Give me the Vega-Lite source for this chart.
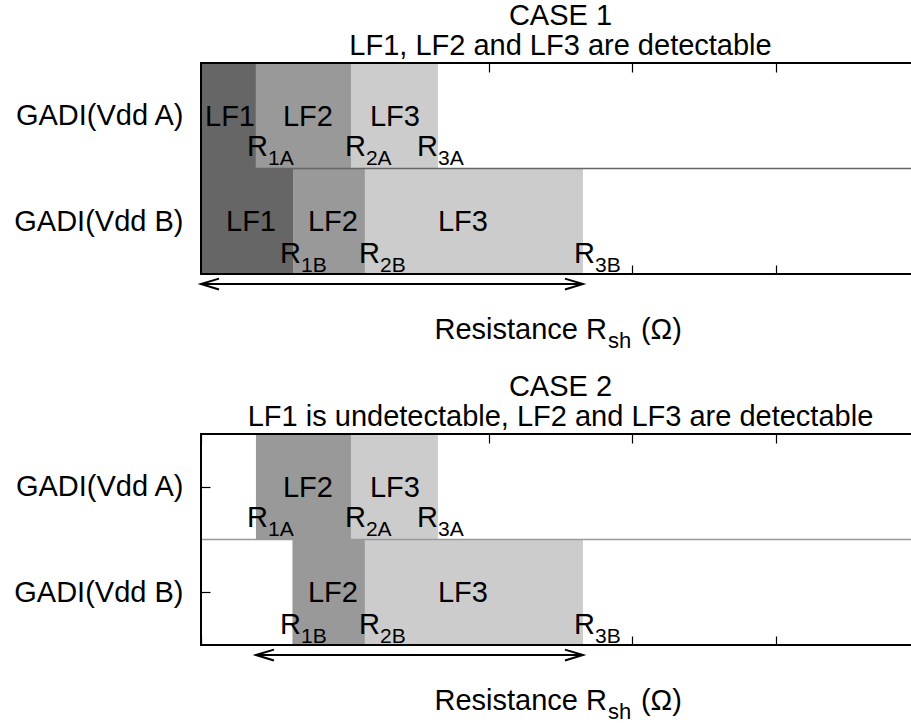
{
  "$schema": "https://vega.github.io/schema/vega-lite/v6.json",
  "padding": {"left": 13, "top": 2, "right": 0, "bottom": 0},
  "bounds": "flush",
  "spacing": 160,
  "config": {
    "view": {"stroke": null},
    "font": "Liberation Sans",
    "text": {"font": "Liberation Sans", "color": "black"},
    "title": {"font": "Liberation Sans", "fontSize": 29, "fontWeight": "normal", "color": "black", "anchor": "middle", "lineHeight": 30, "offset": 1},
    "axis": {"grid": false, "labelFont": "Liberation Sans", "labelColor": "black", "tickColor": "black", "tickWidth": 1.2}
  },
  "datasets": {
    "bars1": [
      {"row": "A", "lf": "LF1", "x0": 0, "x1": 0.382, "y0": 1, "y1": 2},
      {"row": "A", "lf": "LF2", "x0": 0.382, "x1": 1.043, "y0": 1, "y1": 2},
      {"row": "A", "lf": "LF3", "x0": 1.043, "x1": 1.648, "y0": 1, "y1": 2},
      {"row": "B", "lf": "LF1", "x0": 0, "x1": 0.64, "y0": 0, "y1": 1},
      {"row": "B", "lf": "LF2", "x0": 0.64, "x1": 1.14, "y0": 0, "y1": 1},
      {"row": "B", "lf": "LF3", "x0": 1.14, "x1": 2.656, "y0": 0, "y1": 1}
    ],
    "bars2": [
      {"row": "A", "lf": "LF2", "x0": 0.382, "x1": 1.043, "y0": 1, "y1": 2},
      {"row": "A", "lf": "LF3", "x0": 1.043, "x1": 1.648, "y0": 1, "y1": 2},
      {"row": "B", "lf": "LF2", "x0": 0.636, "x1": 1.14, "y0": 0, "y1": 1},
      {"row": "B", "lf": "LF3", "x0": 1.14, "x1": 2.656, "y0": 0, "y1": 1}
    ],
    "lf1": [
      {"text": "LF1", "x": 0.028, "y": 1.403},
      {"text": "LF2", "x": 0.57, "y": 1.403},
      {"text": "LF3", "x": 1.175, "y": 1.403},
      {"text": "LF1", "x": 0.174, "y": 0.408},
      {"text": "LF2", "x": 0.744, "y": 0.408},
      {"text": "LF3", "x": 1.648, "y": 0.408}
    ],
    "lf2": [
      {"text": "LF2", "x": 0.57, "y": 1.403},
      {"text": "LF3", "x": 1.175, "y": 1.403},
      {"text": "LF2", "x": 0.744, "y": 0.408},
      {"text": "LF3", "x": 1.648, "y": 0.408}
    ],
    "rlabels": [
      {"r": "R", "sub": "1A", "x": 0.32, "y": 1.118},
      {"r": "R", "sub": "2A", "x": 1.001, "y": 1.118},
      {"r": "R", "sub": "3A", "x": 1.502, "y": 1.118},
      {"r": "R", "sub": "1B", "x": 0.549, "y": 0.104},
      {"r": "R", "sub": "2B", "x": 1.099, "y": 0.104},
      {"r": "R", "sub": "3B", "x": 2.594, "y": 0.104}
    ],
    "arrow1": [{"xs": 0, "xe": 2.656, "y": -0.095}],
    "arrow2": [{"xs": 0.382, "xe": 2.656, "y": -0.095}],
    "xtitle": [{"main": "Resistance R", "sub": "sh", "end": "(Ω)", "x": 2.823, "y": -0.616}]
  },
  "vconcat": [
    {
      "width": 719,
      "height": 211,
      "title": {"text": ["CASE 1", "LF1, LF2 and LF3 are detectable"]},
      "layer": [
        {
          "data": {"name": "bars1"},
          "mark": {"type": "rect"},
          "encoding": {
            "x": {"field": "x0", "type": "quantitative", "scale": {"domain": [0, 5], "nice": false, "zero": false},
                  "axis": {"orient": "bottom", "values": [0, 1, 2, 3, 4, 5], "tickSize": -9, "labels": false, "domain": false, "title": null}},
            "x2": {"field": "x1"},
            "y": {"field": "y0", "type": "quantitative", "scale": {"domain": [0, 2], "nice": false, "zero": false},
                  "axis": {"orient": "left", "values": [0.5, 1.5], "tickSize": -9, "labelPadding": 27, "labelFontSize": 29, "domain": false, "title": null,
                           "labelExpr": "datum.value > 1 ? 'GADI(Vdd A)' : 'GADI(Vdd B)'"}},
            "y2": {"field": "y1"},
            "color": {"field": "lf", "type": "nominal", "scale": {"domain": ["LF1", "LF2", "LF3"], "range": ["#666666", "#999999", "#cccccc"]}, "legend": null}
          }
        },
        {
          "data": {"values": [{}]},
          "mark": {"type": "rule", "color": "#666666", "strokeWidth": 1.5},
          "encoding": {
            "x": {"datum": 0, "axis": {"orient": "top", "values": [0, 1, 2, 3, 4, 5], "tickSize": -9, "labels": false, "domain": false, "title": null}},
            "x2": {"datum": 5},
            "y": {"datum": 1, "axis": {"orient": "right", "values": [0.5, 1.5], "tickSize": -9, "labels": false, "domain": false, "title": null}}
          }
        },
        {
          "data": {"name": "lf1"},
          "mark": {"type": "text", "fontSize": 29, "align": "left", "baseline": "alphabetic"},
          "encoding": {
            "x": {"field": "x", "type": "quantitative", "axis": null},
            "y": {"field": "y", "type": "quantitative", "axis": null},
            "text": {"field": "text"}
          }
        },
        {
          "data": {"name": "rlabels"},
          "mark": {"type": "text", "fontSize": 29, "align": "left", "baseline": "alphabetic"},
          "encoding": {
            "x": {"field": "x", "type": "quantitative", "axis": null},
            "y": {"field": "y", "type": "quantitative", "axis": null},
            "text": {"field": "r"}
          }
        },
        {
          "data": {"name": "rlabels"},
          "mark": {"type": "text", "fontSize": 21, "align": "left", "baseline": "alphabetic", "dx": 21, "dy": 9},
          "encoding": {
            "x": {"field": "x", "type": "quantitative", "axis": null},
            "y": {"field": "y", "type": "quantitative", "axis": null},
            "text": {"field": "sub"}
          }
        },
        {
          "data": {"name": "arrow1"},
          "mark": {"type": "rule", "color": "black", "strokeWidth": 2},
          "encoding": {
            "x": {"field": "xs", "type": "quantitative", "axis": null},
            "x2": {"field": "xe"},
            "y": {"field": "y", "type": "quantitative", "axis": null}
          }
        },
        {
          "data": {"name": "arrow1"},
          "mark": {"type": "point", "shape": "M1,-0.3L0,0L1,0.3", "size": 1296, "filled": false, "stroke": "black", "strokeWidth": 2, "opacity": 1},
          "encoding": {
            "x": {"field": "xs", "type": "quantitative", "axis": null},
            "y": {"field": "y", "type": "quantitative", "axis": null}
          }
        },
        {
          "data": {"name": "arrow1"},
          "mark": {"type": "point", "shape": "M-1,-0.3L0,0L-1,0.3", "size": 1296, "filled": false, "stroke": "black", "strokeWidth": 2, "opacity": 1},
          "encoding": {
            "x": {"field": "xe", "type": "quantitative", "axis": null},
            "y": {"field": "y", "type": "quantitative", "axis": null}
          }
        },
        {
          "data": {"name": "xtitle"},
          "mark": {"type": "text", "fontSize": 29, "align": "right", "baseline": "alphabetic"},
          "encoding": {
            "x": {"field": "x", "type": "quantitative", "axis": null},
            "y": {"field": "y", "type": "quantitative", "axis": null},
            "text": {"field": "main"}
          }
        },
        {
          "data": {"name": "xtitle"},
          "mark": {"type": "text", "fontSize": 22, "align": "left", "baseline": "alphabetic", "dx": 1, "dy": 9},
          "encoding": {
            "x": {"field": "x", "type": "quantitative", "axis": null},
            "y": {"field": "y", "type": "quantitative", "axis": null},
            "text": {"field": "sub"}
          }
        },
        {
          "data": {"name": "xtitle"},
          "mark": {"type": "text", "fontSize": 29, "align": "left", "baseline": "alphabetic", "dx": 34},
          "encoding": {
            "x": {"field": "x", "type": "quantitative", "axis": null},
            "y": {"field": "y", "type": "quantitative", "axis": null},
            "text": {"field": "end"}
          }
        },
        {
          "data": {"values": [{}]},
          "mark": {"type": "rect", "filled": false, "stroke": "black", "strokeWidth": 2},
          "encoding": {
            "x": {"datum": 0, "axis": null},
            "x2": {"datum": 5},
            "y": {"datum": 0, "axis": null},
            "y2": {"datum": 2}
          }
        }
      ]
    },
    {
      "width": 719,
      "height": 211,
      "title": {"text": ["CASE 2", "LF1 is undetectable, LF2 and LF3 are detectable"]},
      "layer": [
        {
          "data": {"name": "bars2"},
          "mark": {"type": "rect"},
          "encoding": {
            "x": {"field": "x0", "type": "quantitative", "scale": {"domain": [0, 5], "nice": false, "zero": false},
                  "axis": {"orient": "bottom", "values": [0, 1, 2, 3, 4, 5], "tickSize": -9, "labels": false, "domain": false, "title": null}},
            "x2": {"field": "x1"},
            "y": {"field": "y0", "type": "quantitative", "scale": {"domain": [0, 2], "nice": false, "zero": false},
                  "axis": {"orient": "left", "values": [0.5, 1.5], "tickSize": -9, "labelPadding": 27, "labelFontSize": 29, "domain": false, "title": null,
                           "labelExpr": "datum.value > 1 ? 'GADI(Vdd A)' : 'GADI(Vdd B)'"}},
            "y2": {"field": "y1"},
            "color": {"field": "lf", "type": "nominal", "scale": {"domain": ["LF1", "LF2", "LF3"], "range": ["#666666", "#999999", "#cccccc"]}, "legend": null}
          }
        },
        {
          "data": {"values": [{}]},
          "mark": {"type": "rule", "color": "#999999", "strokeWidth": 1.5},
          "encoding": {
            "x": {"datum": 0, "axis": {"orient": "top", "values": [0, 1, 2, 3, 4, 5], "tickSize": -9, "labels": false, "domain": false, "title": null}},
            "x2": {"datum": 5},
            "y": {"datum": 1, "axis": {"orient": "right", "values": [0.5, 1.5], "tickSize": -9, "labels": false, "domain": false, "title": null}}
          }
        },
        {
          "data": {"name": "lf2"},
          "mark": {"type": "text", "fontSize": 29, "align": "left", "baseline": "alphabetic"},
          "encoding": {
            "x": {"field": "x", "type": "quantitative", "axis": null},
            "y": {"field": "y", "type": "quantitative", "axis": null},
            "text": {"field": "text"}
          }
        },
        {
          "data": {"name": "rlabels"},
          "mark": {"type": "text", "fontSize": 29, "align": "left", "baseline": "alphabetic"},
          "encoding": {
            "x": {"field": "x", "type": "quantitative", "axis": null},
            "y": {"field": "y", "type": "quantitative", "axis": null},
            "text": {"field": "r"}
          }
        },
        {
          "data": {"name": "rlabels"},
          "mark": {"type": "text", "fontSize": 21, "align": "left", "baseline": "alphabetic", "dx": 21, "dy": 9},
          "encoding": {
            "x": {"field": "x", "type": "quantitative", "axis": null},
            "y": {"field": "y", "type": "quantitative", "axis": null},
            "text": {"field": "sub"}
          }
        },
        {
          "data": {"name": "arrow2"},
          "mark": {"type": "rule", "color": "black", "strokeWidth": 2},
          "encoding": {
            "x": {"field": "xs", "type": "quantitative", "axis": null},
            "x2": {"field": "xe"},
            "y": {"field": "y", "type": "quantitative", "axis": null}
          }
        },
        {
          "data": {"name": "arrow2"},
          "mark": {"type": "point", "shape": "M1,-0.3L0,0L1,0.3", "size": 1296, "filled": false, "stroke": "black", "strokeWidth": 2, "opacity": 1},
          "encoding": {
            "x": {"field": "xs", "type": "quantitative", "axis": null},
            "y": {"field": "y", "type": "quantitative", "axis": null}
          }
        },
        {
          "data": {"name": "arrow2"},
          "mark": {"type": "point", "shape": "M-1,-0.3L0,0L-1,0.3", "size": 1296, "filled": false, "stroke": "black", "strokeWidth": 2, "opacity": 1},
          "encoding": {
            "x": {"field": "xe", "type": "quantitative", "axis": null},
            "y": {"field": "y", "type": "quantitative", "axis": null}
          }
        },
        {
          "data": {"name": "xtitle"},
          "mark": {"type": "text", "fontSize": 29, "align": "right", "baseline": "alphabetic"},
          "encoding": {
            "x": {"field": "x", "type": "quantitative", "axis": null},
            "y": {"field": "y", "type": "quantitative", "axis": null},
            "text": {"field": "main"}
          }
        },
        {
          "data": {"name": "xtitle"},
          "mark": {"type": "text", "fontSize": 22, "align": "left", "baseline": "alphabetic", "dx": 1, "dy": 9},
          "encoding": {
            "x": {"field": "x", "type": "quantitative", "axis": null},
            "y": {"field": "y", "type": "quantitative", "axis": null},
            "text": {"field": "sub"}
          }
        },
        {
          "data": {"name": "xtitle"},
          "mark": {"type": "text", "fontSize": 29, "align": "left", "baseline": "alphabetic", "dx": 34},
          "encoding": {
            "x": {"field": "x", "type": "quantitative", "axis": null},
            "y": {"field": "y", "type": "quantitative", "axis": null},
            "text": {"field": "end"}
          }
        },
        {
          "data": {"values": [{}]},
          "mark": {"type": "rect", "filled": false, "stroke": "black", "strokeWidth": 2},
          "encoding": {
            "x": {"datum": 0, "axis": null},
            "x2": {"datum": 5},
            "y": {"datum": 0, "axis": null},
            "y2": {"datum": 2}
          }
        }
      ]
    }
  ]
}
